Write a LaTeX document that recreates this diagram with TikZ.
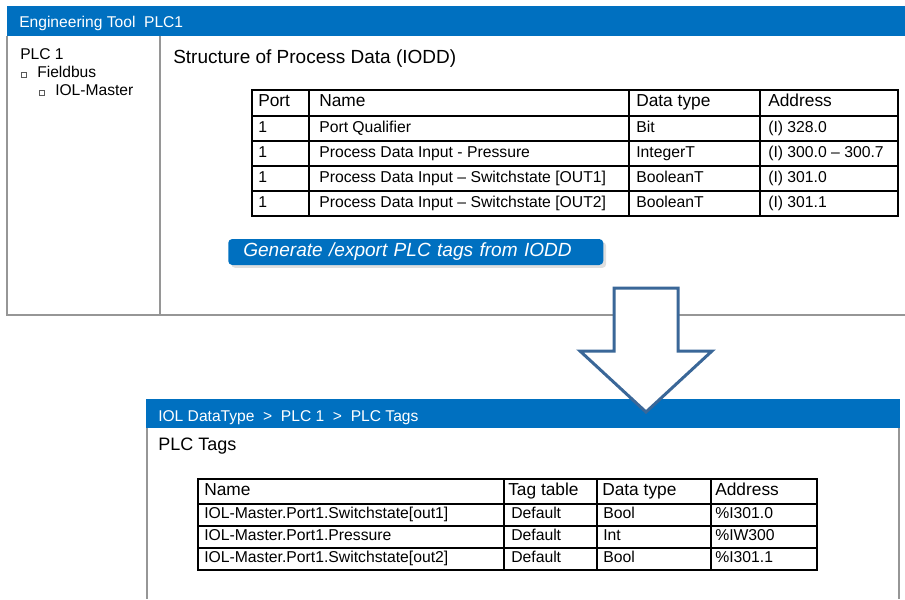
\documentclass[tikz,border=0pt]{standalone}
\usepackage{fontspec}
\setmainfont{Liberation Sans}
\usetikzlibrary{shadows}
\definecolor{barblue}{RGB}{0,112,192}
\definecolor{framegray}{RGB}{150,150,150}
\definecolor{arrowblue}{RGB}{58,103,152}
\tikzset{frame/.style = {draw=framegray, line width=0.8pt}}
\tikzset{grid/.style = {draw=black, line width=0.9pt}}
\tikzset{bartext/.style = {anchor=base west, inner sep=0, text=white,
                           font=\fontsize{11.7}{14}\selectfont}}
\tikzset{panetext/.style = {anchor=base west, inner sep=0, font=\fontsize{11.7}{14}\selectfont}}
\tikzset{headcell/.style = {anchor=mid west, inner sep=0, font=\fontsize{13}{15}\selectfont}}
\tikzset{bodycell/.style = {anchor=mid west, inner sep=0, font=\fontsize{11.8}{14}\selectfont}}
\tikzset{treebox/.style = {draw=black!65, line width=0.3pt, inner sep=0, minimum size=3.9pt}}
\tikzset{button/.style = {fill=barblue, rounded corners=3pt, inner xsep=11.25pt, inner ysep=0,
                          minimum height=19.5pt, text width=258.75pt, align=left, text=white,
                          font=\fontsize{14.3}{17}\selectfont\itshape,
                          drop shadow={shadow xshift=2.2pt, shadow yshift=-2.2pt, opacity=0.25}}}

\begin{document}
\begin{tikzpicture}[x=0.75pt, y=-0.75pt]
  \useasboundingbox (0,0) rectangle (905,599);

  % engineering tool window
  \fill[barblue] (7,6) rectangle (905,36);
  \draw[frame] (7,36) -- (7,315) -- (905,315);
  \draw[frame] (160,36) -- (160,315);
  \node[bartext] (tooltitle) at (19,27.3) {Engineering Tool\ \ PLC1};

  % project tree
  \node[panetext] (plc) at (20,59.3) {PLC 1};
  \node[treebox] (fbbox) at (23.5,74.5) {};
  \node[panetext] (fieldbus) at (37,77.3) {Fieldbus};
  \node[treebox] (iolbox) at (41.5,93) {};
  \node[panetext] (iolmaster) at (55,96) {IOL-Master};

  \node[anchor=base west, inner sep=0, font=\fontsize{14.25}{17}\selectfont] (pdtitle)
    at (173,63.3) {Structure of Process Data (IODD)};

  % process data table
  \draw[grid] (252,90) rectangle (898,216);
  \foreach \y in {116,141,166,191}
    \draw[grid] (252,\y) -- (898,\y);
  \foreach \x in {309,629,760}
    \draw[grid] (\x,90) -- (\x,216);
  \node[headcell] (pdport) at (258,103) {Port};
  \node[headcell] (pdname) at (319,103) {Name};
  \node[headcell] (pdtype) at (636,103) {Data type};
  \node[headcell] (pdaddr) at (768,103) {Address};
  \foreach \port/\name/\type/\addr [count=\r] in
    {1/Port Qualifier/Bit/(I) 328.0,
     1/Process Data Input - Pressure/IntegerT/(I) 300.0 – 300.7,
     1/Process Data Input – Switchstate [OUT1]/BooleanT/(I) 301.0,
     1/Process Data Input – Switchstate [OUT2]/BooleanT/(I) 301.1}
  {
    \node[bodycell] (pd\r port) at (258,{103.5+25*\r}) {\port};
    \node[bodycell] (pd\r name) at (319,{103.5+25*\r}) {\name};
    \node[bodycell] (pd\r type) at (636,{103.5+25*\r}) {\type};
    \node[bodycell] (pd\r addr) at (768,{103.5+25*\r}) {\addr};
  }

  \node[button, anchor=west] (export) at (228,252) {Generate /export PLC tags from IODD};

  % PLC tags window
  \fill[barblue] (146,399) rectangle (900,428);
  \draw[frame] (147,428) -- (147,599);
  \draw[frame] (899,428) -- (899,599);
  \node[bartext] (tagpath) at (158,421.7) {IOL DataType\ \ >\ \ PLC 1\ \ >\ \ PLC Tags};
  \node[anchor=base west, inner sep=0, font=\fontsize{13.5}{16}\selectfont] (tagtitle)
    at (158,450) {PLC Tags};

  % tag table
  \draw[grid] (198,479) rectangle (817,570);
  \foreach \y in {504,526,548}
    \draw[grid] (198,\y) -- (817,\y);
  \foreach \x in {504,597,711}
    \draw[grid] (\x,479) -- (\x,570);
  \node[headcell] (tagname) at (204,491.5) {Name};
  \node[headcell] (tagtable) at (508,491.5) {Tag table};
  \node[headcell] (tagtype) at (602,491.5) {Data type};
  \node[headcell] (tagaddr) at (715,491.5) {Address};
  \foreach \name/\type/\addr [count=\r] in
    {IOL-Master.Port1.Switchstate[out1]/Bool/\%I301.0,
     IOL-Master.Port1.Pressure/Int/\%IW300,
     IOL-Master.Port1.Switchstate[out2]/Bool/\%I301.1}
  {
    \node[bodycell] (tag\r name) at (204,{493+22*\r}) {\name};
    \node[bodycell] (tag\r table) at (511,{493+22*\r}) {Default};
    \node[bodycell] (tag\r type) at (603,{493+22*\r}) {\type};
    \node[bodycell] (tag\r addr) at (715,{493+22*\r}) {\addr};
  }

  % block arrow
  \draw[draw=arrowblue, fill=white, line width=2.25pt, line join=miter]
    (614,288) -- (678,288) -- (678,351) -- (712,351) -- (646,412)
    -- (580,351) -- (614,351) -- cycle;
\end{tikzpicture}
\end{document}
